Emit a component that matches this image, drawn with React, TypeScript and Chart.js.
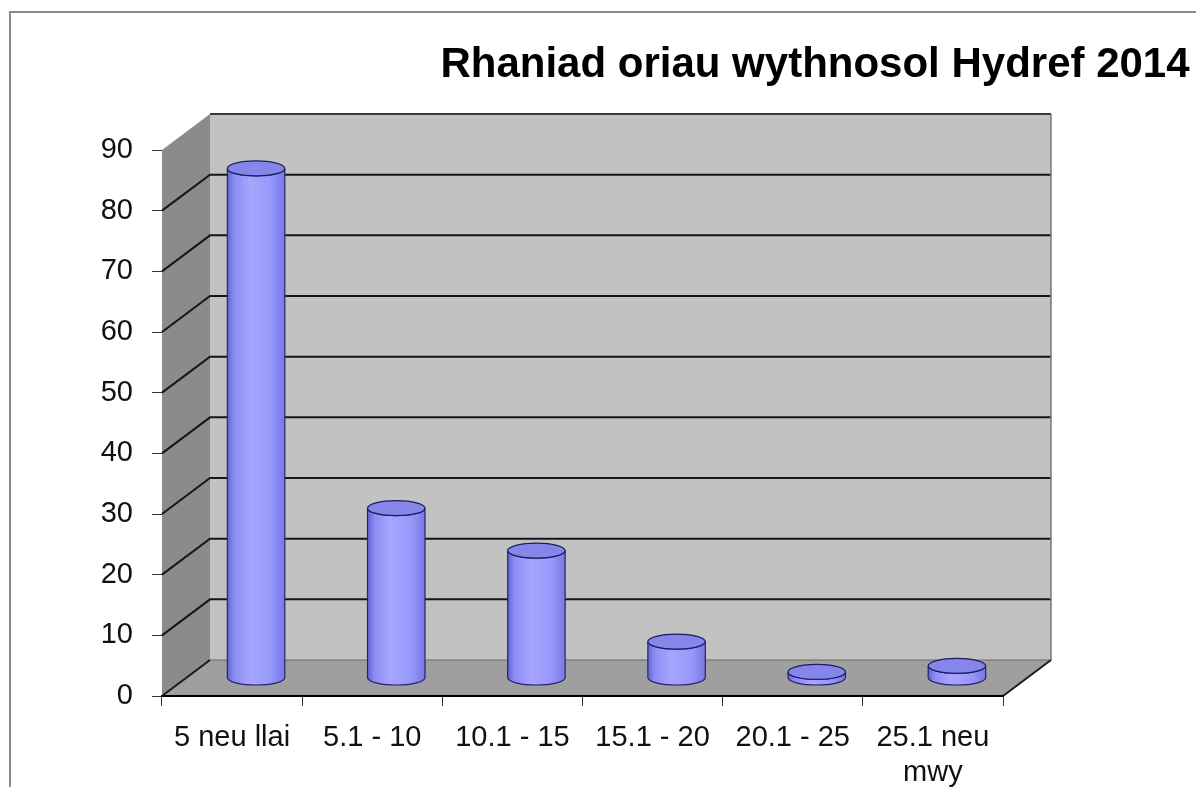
import React, { useEffect, useRef } from "react";
import { Chart, registerables } from "chart.js";

Chart.register(...registerables);

// ---- data ----
const titleText = "Rhaniad oriau wythnosol Hydref 2014";
const categories: (string | string[])[] = [
  "5 neu llai",
  "5.1 - 10",
  "10.1 - 15",
  "15.1 - 20",
  "20.1 - 25",
  ["25.1 neu", "mwy"],
];
const values = [84, 28, 21, 6, 1, 2];
const yMin = 0;
const yMax = 90;
const yStep = 10;

// ---- style ----
const DX = 48;
const DY = -36;
const FONT = '"Liberation Sans", Arial, Helvetica, sans-serif';

function poly(ctx: CanvasRenderingContext2D, pts: number[][], fill: string) {
  ctx.beginPath();
  ctx.moveTo(pts[0][0], pts[0][1]);
  for (let i = 1; i < pts.length; i++) ctx.lineTo(pts[i][0], pts[i][1]);
  ctx.closePath();
  ctx.fillStyle = fill;
  ctx.fill();
}

function line(ctx: CanvasRenderingContext2D, pts: number[][], color: string, w: number) {
  ctx.beginPath();
  ctx.moveTo(pts[0][0], pts[0][1]);
  for (let i = 1; i < pts.length; i++) ctx.lineTo(pts[i][0], pts[i][1]);
  ctx.strokeStyle = color;
  ctx.lineWidth = w;
  ctx.stroke();
}

const wallsPlugin = {
  id: "walls3d",
  beforeDraw(chart: any) {
    const { ctx, chartArea: a, scales } = chart;
    const y = scales.y;
    const L = a.left, R = a.right, T = a.top, B = a.bottom;
    ctx.save();
    // outer frame
    ctx.strokeStyle = "#8c8c8c";
    ctx.lineWidth = 2;
    ctx.strokeRect(10, 12, 3000, 3000);
    // back wall
    ctx.fillStyle = "#c2c2c2";
    ctx.fillRect(L + DX, T + DY, R - L, B - T);
    // side wall
    poly(ctx, [[L, B], [L, T], [L + DX, T + DY], [L + DX, B + DY]], "#8b8b8b");
    // floor
    poly(ctx, [[L, B], [R, B], [R + DX, B + DY], [L + DX, B + DY]], "#9f9f9f");
    // gridlines on walls
    for (const t of y.ticks) {
      const v = t.value;
      if (v >= yMax) continue;
      const p = y.getPixelForValue(v);
      if (v === yMin) {
        line(ctx, [[L, p], [L + DX, p + DY]], "#1a1a1a", 2);
        line(ctx, [[L + DX, p + DY], [R + DX, p + DY]], "#6a6a6a", 1);
      } else {
        line(ctx, [[L, p], [L + DX, p + DY], [R + DX, p + DY]], "#161616", 2);
      }
    }
    // edges
    line(ctx, [[L + DX, T + DY], [R + DX, T + DY]], "#3a3a3a", 2);
    line(ctx, [[R + DX, T + DY], [R + DX, B + DY]], "#777777", 1.5);
    line(ctx, [[R, B], [R + DX, B + DY]], "#1e1e1e", 2);
    ctx.restore();
  },
};

const cylinderPlugin = {
  id: "cylinders",
  afterDatasetsDraw(chart: any) {
    const { ctx } = chart;
    const meta = chart.getDatasetMeta(0);
    ctx.save();
    meta.data.forEach((bar: any) => {
      const { x, y, base, width } = bar.getProps(["x", "y", "base", "width"], true);
      const cx = x + DX / 2;
      const ty = y + DY / 2;
      const by = base + DY / 2;
      const rx = width / 2;
      const ry = 7.5;
      const g = ctx.createLinearGradient(cx - rx, 0, cx + rx, 0);
      g.addColorStop(0, "#6464d2");
      g.addColorStop(0.12, "#8c8cf5");
      g.addColorStop(0.4, "#a6a6ff");
      g.addColorStop(0.75, "#9898fc");
      g.addColorStop(1, "#7878e4");
      ctx.beginPath();
      ctx.moveTo(cx - rx, ty);
      ctx.lineTo(cx - rx, by);
      ctx.ellipse(cx, by, rx, ry, 0, Math.PI, 0, true);
      ctx.lineTo(cx + rx, ty);
      ctx.ellipse(cx, ty, rx, ry, 0, 0, Math.PI, false);
      ctx.closePath();
      ctx.fillStyle = g;
      ctx.fill();
      ctx.strokeStyle = "#24246e";
      ctx.lineWidth = 1.2;
      ctx.stroke();
      // top
      ctx.beginPath();
      ctx.ellipse(cx, ty, rx, ry, 0, 0, Math.PI * 2);
      ctx.fillStyle = "#8585ea";
      ctx.fill();
      ctx.strokeStyle = "#1c1c60";
      ctx.lineWidth = 1.2;
      ctx.stroke();
    });
    ctx.restore();
  },
};

const titlePlugin = {
  id: "titleText",
  afterDraw(chart: any) {
    const { ctx } = chart;
    ctx.save();
    ctx.font = `bold 42px ${FONT}`;
    ctx.fillStyle = "#000";
    ctx.textAlign = "center";
    ctx.textBaseline = "alphabetic";
    ctx.fillText(titleText, 815, 77);
    ctx.restore();
  },
};

export default function App() {
  const ref = useRef<HTMLCanvasElement | null>(null);
  useEffect(() => {
    if (!ref.current) return;
    const chart = new Chart(ref.current, {
      type: "bar",
      data: {
        labels: categories as any,
        datasets: [
          {
            data: values,
            backgroundColor: "rgba(0,0,0,0)",
            borderWidth: 0,
            barPercentage: 0.41,
            categoryPercentage: 1,
          },
        ],
      },
      options: {
        responsive: false,
        animation: false,
        layout: { padding: { top: 150, right: 193, left: 0, bottom: 0 } },
        plugins: {
          legend: { display: false },
          tooltip: { enabled: false },
          title: { display: false },
        },
        scales: {
          x: {
            grid: {
              offset: true,
              drawOnChartArea: false,
              drawTicks: true,
              tickLength: 10,
              color: "#333",
              lineWidth: 1,
            },
            border: { display: true, color: "#000", width: 2 },
            ticks: {
              color: "#111",
              font: { family: FONT, size: 29 },
              padding: 15,
              maxRotation: 0,
              autoSkip: false,
            },
            afterFit: (s: any) => {
              s.height = 91;
            },
          },
          y: {
            min: yMin,
            max: yMax,
            ticks: {
              stepSize: yStep,
              color: "#111",
              font: { family: FONT, size: 29 },
              padding: 19,
            },
            grid: {
              drawOnChartArea: false,
              drawTicks: true,
              tickLength: 10,
              color: "#333",
              lineWidth: 1,
            },
            border: { display: false },
            afterFit: (s: any) => {
              s.width = 162;
            },
          },
        },
      },
      plugins: [wallsPlugin, cylinderPlugin, titlePlugin],
    });
    return () => chart.destroy();
  }, []);
  return (
    <div style={{ position: "absolute", left: 0, top: 0, width: 1196, height: 787, background: "#fff" }}>
      <canvas ref={ref} width={1196} height={787} />
    </div>
  );
}
